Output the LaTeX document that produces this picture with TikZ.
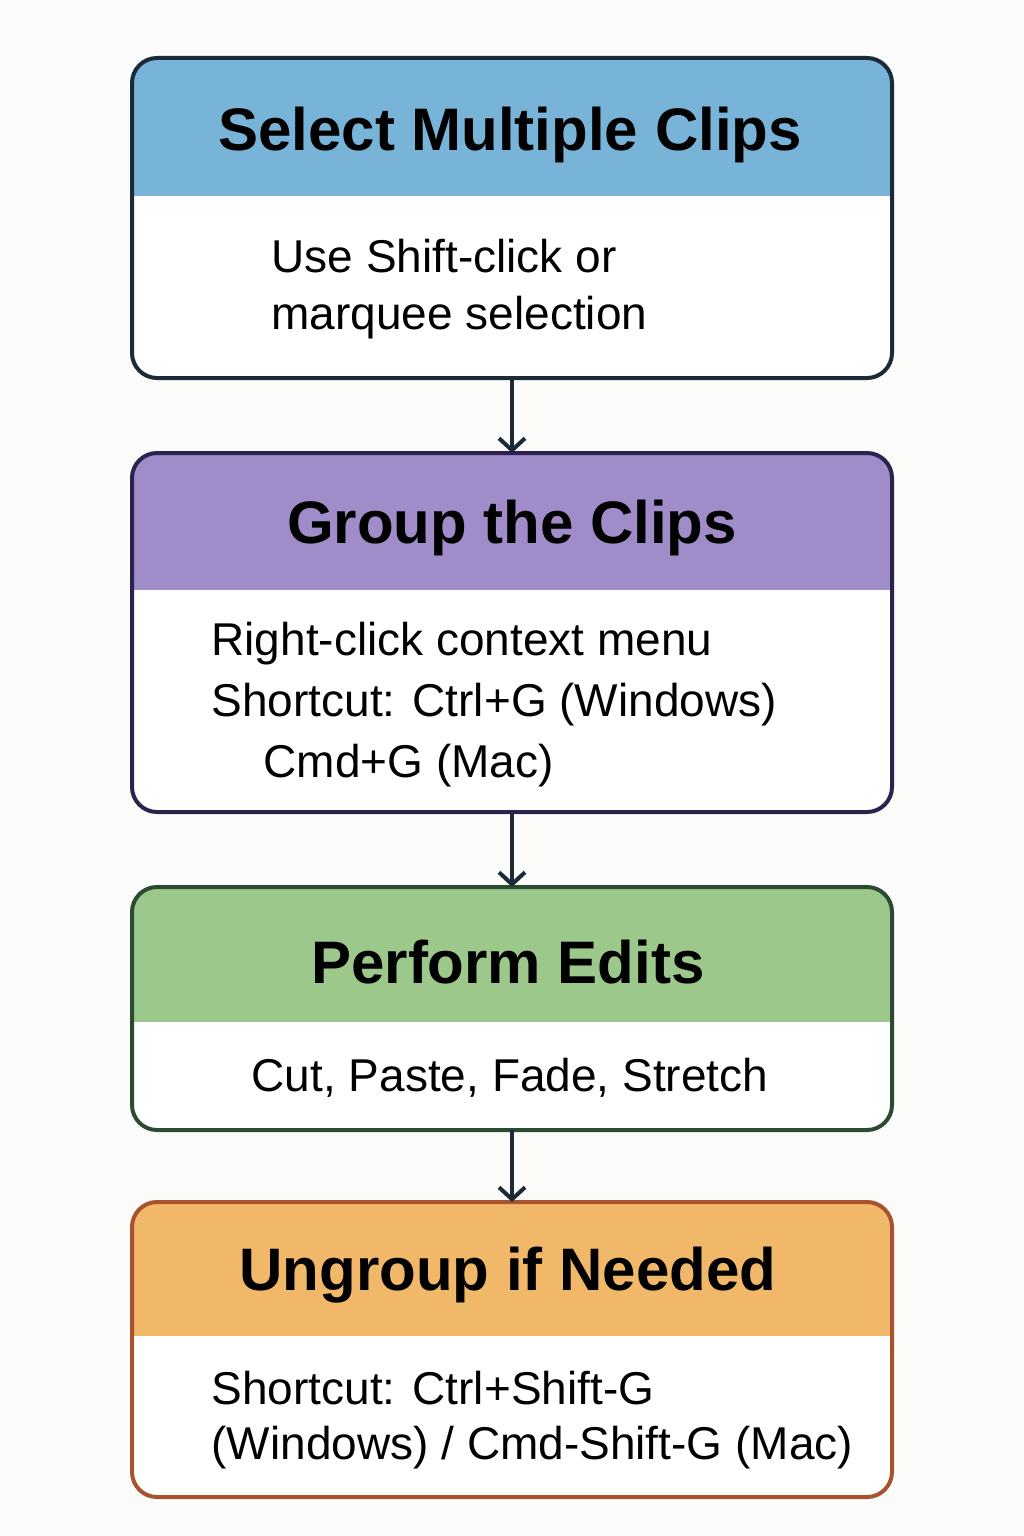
\documentclass[tikz,border=0pt]{standalone}
\usepackage{fontspec}
\setmainfont{Liberation Sans}
\usetikzlibrary{arrows.meta}
\definecolor{bg}{HTML}{FBFBF9}
\definecolor{hblue}{HTML}{78B4D8}
\definecolor{hpurple}{HTML}{A08CC8}
\definecolor{hgreen}{HTML}{9CC88C}
\definecolor{horange}{HTML}{F2B86A}
\definecolor{eblue}{HTML}{1B2A38}
\definecolor{epurple}{HTML}{2C2250}
\definecolor{egreen}{HTML}{2C4A32}
\definecolor{eorange}{HTML}{A8532E}
\begin{document}
\begin{tikzpicture}[x=1pt, y=-1pt,
    title/.style = {font=\fontsize{60}{60}\selectfont\bfseries, anchor=center},
    line/.style = {font=\fontsize{46}{46}\selectfont, anchor=west},
    frame/.style = {line width=4pt, rounded corners=25pt},
    flow/.style = {line width=4pt, -{Straight Barb[length=12pt,width=26pt,line width=4pt]}}]
  \fill[bg] (0,0) rectangle (1024,1536);
  \useasboundingbox (0,0) rectangle (1024,1536);

  % step 1
  \begin{scope}
    \clip[rounded corners=25pt] (132,58) rectangle (892,378);
    \fill[white] (132,58) rectangle (892,378);
    \fill[hblue] (132,58) rectangle (892,196);
  \end{scope}
  \draw[frame, eblue] (132,58) rectangle (892,378);
  \coordinate (b1top) at (512,58);
  \coordinate (b1bot) at (512,378);
  \node[title] (t1) at (510,135) {Select Multiple Clips};
  \node[line] (l1a) at (268,256) {Use Shift-click or};
  \node[line] (l1b) at (268,318) {marquee selection};

  % step 2
  \begin{scope}
    \clip[rounded corners=25pt] (132,453) rectangle (892,812);
    \fill[white] (132,453) rectangle (892,812);
    \fill[hpurple] (132,453) rectangle (892,590);
  \end{scope}
  \draw[frame, epurple] (132,453) rectangle (892,812);
  \coordinate (b2top) at (512,453);
  \coordinate (b2bot) at (512,812);
  \node[title] (t2) at (512,528) {Group the Clips};
  \node[line] (l2a) at (208,644) {Right-click context menu};
  \node[line] (l2b) at (208,705) {Shortcut: Ctrl+G (Windows)};
  \node[line] (l2c) at (260,766) {Cmd+G (Mac)};

  % step 3
  \begin{scope}
    \clip[rounded corners=25pt] (132,887) rectangle (892,1130);
    \fill[white] (132,887) rectangle (892,1130);
    \fill[hgreen] (132,887) rectangle (892,1022);
  \end{scope}
  \draw[frame, egreen] (132,887) rectangle (892,1130);
  \coordinate (b3top) at (512,887);
  \coordinate (b3bot) at (512,1130);
  \node[title] (t3) at (508,962) {Perform Edits};
  \node[line, anchor=center] (l3a) at (510,1078) {Cut, Paste, Fade, Stretch};

  % step 4
  \begin{scope}
    \clip[rounded corners=25pt] (132,1202) rectangle (892,1497);
    \fill[white] (132,1202) rectangle (892,1497);
    \fill[horange] (132,1202) rectangle (892,1336);
  \end{scope}
  \draw[frame, eorange] (132,1202) rectangle (892,1497);
  \coordinate (b4top) at (512,1202);
  \node[title] (t4) at (508,1275) {Ungroup if Needed};
  \node[line] (l4a) at (208,1388) {Shortcut: Ctrl+Shift-G};
  \node[line] (l4b) at (208,1448) {(Windows) / Cmd-Shift-G (Mac)};

  \draw[flow, eblue] (b1bot) -- (b2top);
  \draw[flow, eblue] (b2bot) -- (b3top);
  \draw[flow, eblue] (b3bot) -- (b4top);
\end{tikzpicture}
\end{document}
